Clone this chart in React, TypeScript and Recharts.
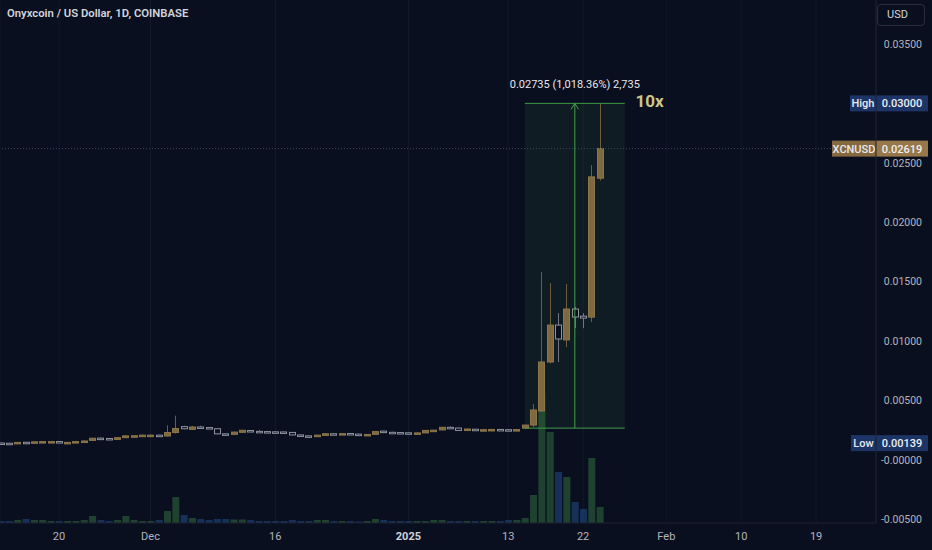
import React from "react";
import {
  ComposedChart,
  Bar,
  Cell,
  XAxis,
  YAxis,
  CartesianGrid,
  ReferenceLine,
  ReferenceArea,
  ReferenceDot,
} from "recharts";

// daily candles, index 0 = 2024-11-13 ... index 72 = 2025-01-24
const opens = [
  0.0014, 0.00138, 0.00133, 0.00146, 0.00143, 0.0015, 0.00152, 0.00152, 0.00144, 0.00145,
  0.00152, 0.00162, 0.00181, 0.00178, 0.0017, 0.00185, 0.002, 0.00201, 0.00206, 0.00206,
  0.00199, 0.00228, 0.00278, 0.00255, 0.00275, 0.0027, 0.0026, 0.00217, 0.00213, 0.0023,
  0.00245, 0.00238, 0.00236, 0.00234, 0.00233, 0.00229, 0.00208, 0.002, 0.00198, 0.00204,
  0.00218, 0.00216, 0.0022, 0.00215, 0.00202, 0.00213, 0.0024, 0.0023, 0.00228, 0.00226,
  0.00224, 0.00225, 0.00246, 0.0025, 0.00272, 0.00266, 0.00245, 0.00256, 0.0025, 0.00248,
  0.00254, 0.00252, 0.0025, 0.00265, 0.00291, 0.0041, 0.00822, 0.01133, 0.01008, 0.01268,
  0.01208, 0.012, 0.0237,
];
const closes = [
  0.00138, 0.00131, 0.00145, 0.00143, 0.0015, 0.00152, 0.00152, 0.00144, 0.00145, 0.00152,
  0.00157, 0.0018, 0.00178, 0.0017, 0.00185, 0.002, 0.00201, 0.00206, 0.00206, 0.00204,
  0.00228, 0.00262, 0.0026, 0.00275, 0.0027, 0.00262, 0.00217, 0.00215, 0.00232, 0.00247,
  0.00238, 0.00236, 0.00234, 0.00232, 0.0023, 0.00208, 0.002, 0.00198, 0.00206, 0.00218,
  0.00216, 0.00219, 0.00215, 0.00206, 0.00212, 0.00236, 0.0023, 0.00228, 0.00226, 0.00224,
  0.00225, 0.00246, 0.00248, 0.00272, 0.0027, 0.00246, 0.00258, 0.0025, 0.00252, 0.00254,
  0.00252, 0.0025, 0.00253, 0.00291, 0.00418, 0.00822, 0.01133, 0.01016, 0.01268, 0.01201,
  0.01192, 0.02381, 0.02619,
];
const highs = [
  0.00145, 0.0014, 0.00148, 0.00149, 0.00152, 0.00156, 0.00155, 0.00154, 0.00148, 0.00155,
  0.0016, 0.00184, 0.00186, 0.0018, 0.00188, 0.00204, 0.00206, 0.0021, 0.00212, 0.00209,
  0.00289, 0.0037, 0.00285, 0.00282, 0.00285, 0.00274, 0.00265, 0.0022, 0.00235, 0.0025,
  0.00249, 0.00248, 0.0024, 0.00238, 0.00236, 0.00232, 0.0021, 0.00203, 0.00209, 0.00222,
  0.00221, 0.00222, 0.00224, 0.00218, 0.00215, 0.00239, 0.00243, 0.00234, 0.00231, 0.00229,
  0.00229, 0.00249, 0.00252, 0.00275, 0.0028, 0.00268, 0.0026, 0.00259, 0.00256, 0.00257,
  0.00258, 0.00255, 0.00257, 0.00294, 0.00467, 0.01579, 0.01487, 0.01234, 0.01478, 0.01285,
  0.01234, 0.0248, 0.03,
];
const lows = [
  0.00136, 0.00129, 0.00131, 0.00139, 0.00141, 0.00148, 0.00149, 0.00142, 0.00142, 0.00143,
  0.0015, 0.0016, 0.00174, 0.00166, 0.00168, 0.00183, 0.00196, 0.00199, 0.00203, 0.00202,
  0.00195, 0.0022, 0.00255, 0.0025, 0.00266, 0.00258, 0.00214, 0.00211, 0.0021, 0.00227,
  0.00235, 0.00233, 0.00231, 0.00229, 0.00227, 0.00205, 0.00196, 0.0019, 0.00196, 0.00201,
  0.00213, 0.00213, 0.00212, 0.00203, 0.002, 0.0021, 0.00226, 0.00225, 0.00223, 0.00221,
  0.00221, 0.00223, 0.00243, 0.00248, 0.00266, 0.00243, 0.00242, 0.00247, 0.00247, 0.00245,
  0.0025, 0.00247, 0.00248, 0.00262, 0.00275, 0.004, 0.0081, 0.00822, 0.00947, 0.01107,
  0.01107, 0.01158, 0.0235,
];
const volumes = [
  2, 2, 3, 4, 3, 3, 2, 2, 2, 2, 3, 7, 3, 2, 3, 7, 3, 2, 2, 3,
  12, 26, 8, 5, 4, 3, 4, 4, 3.5, 3.5, 3, 2, 2, 2, 2, 3, 2, 2, 3, 3,
  2, 2, 2, 1.5, 2, 4, 3, 2, 2, 2, 2, 2, 3, 3, 2, 2, 2, 2, 2, 2,
  2, 3, 3, 5, 28, 130, 91, 51, 46, 21, 14, 65, 16,
];

const tickDays = [7, 18, 33, 49, 61, 70, 80, 89, 98];
const tickLabels = ["20", "Dec", "16", "2025", "13", "22", "Feb", "10", "19"];
const priceTicks = [-0.005, 0, 0.005, 0.01, 0.015, 0.02, 0.025, 0.03, 0.035];

const measureFrom = 63;
const measureTo = 75;
const measureMid = 69;
const measureLow = 0.00265;
const rangeHigh = 0.03;
const rangeLow = 0.00139;
const lastPrice = 0.02619;

const candles = opens.map((o, i) => ({
  i,
  open: o,
  high: highs[i],
  low: lows[i],
  close: closes[i],
  vol: volumes[i],
}));

const BG = "#0a0f1f";
const TEXT = "#b2b5be";
const FONT = "Roboto, 'Noto Sans', sans-serif";

function Candle(props: any) {
  const { x, y, width, height, payload } = props;
  if (x == null || y == null || !payload) return null;
  const { open, close, high, low } = payload;
  const top = Math.min(y, y + height);
  const bottom = Math.max(y, y + height);
  const span = high - low || 1e-9;
  const toY = (p: number) => top + ((high - p) / span) * (bottom - top);
  const up = close >= open;
  const cx = Math.round(x + width / 2) + 0.5;
  const bTop = toY(Math.max(open, close));
  const bh = Math.max(1.5, toY(Math.min(open, close)) - bTop);
  return (
    <g>
      <line x1={cx} x2={cx} y1={top} y2={bottom} stroke={up ? "#6e5e3d" : "#70747f"} strokeWidth={1} />
      <rect
        x={cx - width / 2}
        y={bTop}
        width={width}
        height={bh}
        fill={up ? "#7e6940" : BG}
        stroke={up ? "#8c7549" : "#8f939d"}
        strokeWidth={1}
      />
    </g>
  );
}

function PriceTick(props: any) {
  const { y, payload } = props;
  const v = payload.value;
  if (Math.abs(v - rangeHigh) < 1e-9) return null;
  const label = v <= 0 ? "-" + Math.abs(v).toFixed(5) : v.toFixed(5);
  return (
    <text x={922} y={y + 4} textAnchor="end" fill={TEXT} fontSize={10.5} fontFamily={FONT}>
      {label}
    </text>
  );
}

function TimeTick(props: any) {
  const { x, payload } = props;
  const idx = tickDays.indexOf(payload.value);
  const label = tickLabels[idx];
  const bold = label === "2025";
  return (
    <text
      x={x}
      y={540}
      textAnchor="middle"
      fill={bold ? "#d1d4dc" : TEXT}
      fontSize={11}
      fontFamily={FONT}
      fontWeight={bold ? 700 : 400}
    >
      {label}
    </text>
  );
}

function sideLabel(name: string, value: string, leftX: number, nameBg: string, valBg: string) {
  return (p: any) => {
    const y = p.viewBox.y;
    return (
      <g fontFamily={FONT} fontSize={11} fontWeight={500}>
        <rect x={leftX} y={y - 8} width={876 - leftX} height={16} fill={nameBg} />
        <rect x={876} y={y - 8} width={52} height={16} fill={valBg} />
        <text x={(leftX + 876) / 2} y={y + 4} textAnchor="middle" fill="#e8e9ee">
          {name}
        </text>
        <text x={902} y={y + 4} textAnchor="middle" fill="#eef0f4">
          {value}
        </text>
      </g>
    );
  };
}

export default function App() {
  return (
    <div style={{ position: "relative", width: 932, height: 550, background: BG, fontFamily: FONT }}>
      <style>{"body{margin:0;background:" + BG + "}"}</style>
      <ComposedChart width={932} height={550} data={candles} margin={{ top: 0, right: 0, bottom: 0, left: 0 }}>
        <CartesianGrid xAxisId="x" yAxisId="price" horizontal={false} stroke="#131929" />
        <XAxis
          xAxisId="x"
          dataKey="i"
          type="number"
          domain={[-0.09, 105.2]}
          allowDataOverflow
          ticks={tickDays}
          interval={0}
          height={27}
          tickLine={false}
          axisLine={{ stroke: "#1c2131" }}
          tick={<TimeTick />}
        />
        <XAxis xAxisId="xv" dataKey="i" type="number" domain={[-0.09, 105.2]} allowDataOverflow hide />
        <YAxis
          yAxisId="price"
          orientation="right"
          width={56}
          domain={[-0.005337, 0.038705]}
          allowDataOverflow
          ticks={priceTicks}
          interval={0}
          tickLine={false}
          axisLine={{ stroke: "#1c2131" }}
          tick={<PriceTick />}
        />
        <YAxis yAxisId="vol" hide domain={[0, 523]} allowDataOverflow />
        <ReferenceArea
          xAxisId="x"
          yAxisId="price"
          x1={measureFrom}
          x2={measureTo}
          y1={measureLow}
          y2={rangeHigh}
          fill="rgba(76,175,80,0.17)"
          stroke="none"
        />
        <Bar xAxisId="xv" yAxisId="vol" dataKey="vol" barSize={7} isAnimationActive={false}>
          {candles.map((d) => (
            <Cell key={d.i} fill={d.close >= d.open ? "rgba(76,175,80,0.32)" : "rgba(41,98,170,0.42)"} />
          ))}
        </Bar>
        <Bar
          xAxisId="x"
          yAxisId="price"
          dataKey={(d: any) => [d.low, d.high]}
          barSize={6}
          shape={<Candle />}
          isAnimationActive={false}
        />
        <ReferenceLine
          xAxisId="x"
          yAxisId="price"
          y={lastPrice}
          stroke="#40465a"
          strokeDasharray="1 2"
          label={sideLabel("XCNUSD", "0.02619", 832, "#86693f", "#98784a")}
        />
        <ReferenceLine
          xAxisId="x"
          yAxisId="price"
          y={rangeHigh}
          stroke="none"
          label={sideLabel("High", "0.03000", 850, "#1d3566", "#1d3566")}
        />
        <ReferenceLine
          xAxisId="x"
          yAxisId="price"
          y={rangeLow}
          stroke="none"
          label={sideLabel("Low", "0.00139", 851, "#1d3566", "#1d3566")}
        />
        <ReferenceLine
          xAxisId="x"
          yAxisId="price"
          segment={[{ x: measureFrom, y: rangeHigh }, { x: measureTo, y: rangeHigh }]}
          stroke="#3f9a47"
        />
        <ReferenceLine
          xAxisId="x"
          yAxisId="price"
          segment={[{ x: measureFrom, y: measureLow }, { x: measureTo, y: measureLow }]}
          stroke="#3f9a47"
        />
        <ReferenceLine
          xAxisId="x"
          yAxisId="price"
          segment={[{ x: measureMid, y: measureLow }, { x: measureMid, y: rangeHigh }]}
          stroke="#43a047"
        />
        <ReferenceLine
          xAxisId="x"
          yAxisId="price"
          segment={[{ x: measureMid - 0.45, y: rangeHigh - 0.0005 }, { x: measureMid, y: rangeHigh }]}
          stroke="#43a047"
        />
        <ReferenceLine
          xAxisId="x"
          yAxisId="price"
          segment={[{ x: measureMid + 0.45, y: rangeHigh - 0.0005 }, { x: measureMid, y: rangeHigh }]}
          stroke="#43a047"
        />
        <ReferenceDot
          xAxisId="x"
          yAxisId="price"
          x={measureMid}
          y={rangeHigh}
          r={0}
          fill="none"
          stroke="none"
          label={{
            value: "0.02735 (1,018.36%) 2,735",
            position: "top",
            offset: 15,
            fill: "#e6e8ee",
            fontSize: 11,
            fontFamily: FONT,
          }}
        />
        <ReferenceDot
          xAxisId="x"
          yAxisId="price"
          x={78}
          y={0.0302}
          r={0}
          fill="none"
          stroke="none"
          label={{ value: "10x", position: "center", fill: "#cfc58a", fontSize: 17, fontWeight: 700, fontFamily: FONT }}
        />
      </ComposedChart>
      <div
        style={{
          position: "absolute",
          left: 7,
          top: 7,
          color: "#d1d4dc",
          fontSize: 11.3,
          fontWeight: 600,
          whiteSpace: "nowrap",
        }}
      >
        Onyxcoin / US Dollar, 1D, COINBASE
      </div>
      <div
        style={{
          position: "absolute",
          left: 877,
          top: 4,
          width: 48,
          height: 22,
          border: "1px solid #2a2e3c",
          borderRadius: 4,
          boxSizing: "border-box",
          color: "#d1d4dc",
          fontSize: 11,
          lineHeight: "20px",
          paddingLeft: 9,
        }}
      >
        USD
      </div>
    </div>
  );
}
